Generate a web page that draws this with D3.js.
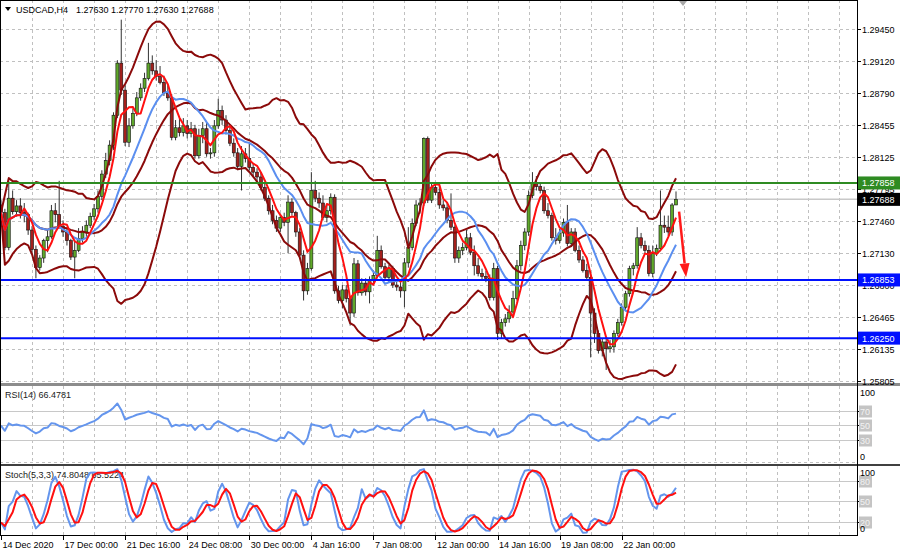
<!DOCTYPE html>
<html>
<head>
<meta charset="utf-8">
<title>USDCAD,H4</title>
<script src="https://cdn.jsdelivr.net/npm/d3@7"></script>
<style>
  body { margin: 0; background: #fff; }
  svg { display: block; font-family: "Liberation Sans", Arial, sans-serif; font-size: 9px; }
</style>
</head>
<body>
<svg id="chart" width="900" height="556"></svg>
<script>
// USDCAD H4 bars, 14 Dec 2020 08:00 .. 26 Jan 2021 08:00
const open = [
    1.2763,1.2755,1.2719,1.2770,1.2756,1.2762,1.2755,1.2753,1.2737,1.2717,
    1.2698,1.2708,1.2726,1.2730,1.2757,1.2753,1.2741,1.2735,1.2726,1.2709,
    1.2716,1.2728,1.2735,1.2742,1.2751,1.2759,1.2772,1.2795,1.2809,1.2825,
    1.2856,1.2910,1.2882,1.2828,1.2845,1.2858,1.2874,1.2884,1.2894,1.2910,
    1.2902,1.2896,1.2890,1.2879,1.2874,1.2833,1.2843,1.2838,1.2845,1.2837,
    1.2842,1.2814,1.2835,1.2842,1.2816,1.2817,1.2845,1.2861,1.2851,1.2840,
    1.2827,1.2817,1.2803,1.2816,1.2811,1.2802,1.2797,1.2792,1.2781,1.2770,
    1.2757,1.2747,1.2739,1.2750,1.2745,1.2766,1.2755,1.2735,1.2711,1.2674,
    1.2697,1.2778,1.2770,1.2765,1.2750,1.2757,1.2771,1.2674,1.2664,1.2675,
    1.2666,1.2651,1.2702,1.2672,1.2682,1.2673,1.2685,1.2690,1.2716,1.2699,
    1.2688,1.2697,1.2680,1.2678,1.2674,1.2703,1.2719,1.2744,1.2763,1.2765,
    1.2832,1.2768,1.2781,1.2776,1.2763,1.2760,1.2747,1.2740,1.2708,1.2716,
    1.2719,1.2729,1.2714,1.2700,1.2692,1.2689,1.2687,1.2667,1.2697,1.2630,
    1.2641,1.2645,1.2652,1.2666,1.2700,1.2721,1.2735,1.2773,1.2786,1.2782,
    1.2778,1.2757,1.2752,1.2729,1.2726,1.2734,1.2745,1.2723,1.2735,1.2716,
    1.2706,1.2695,1.2688,1.2651,1.2630,1.2612,1.2621,1.2614,1.2616,1.2630,
    1.2641,1.2657,1.2671,1.2697,1.2700,1.2729,1.2721,1.2716,1.2692,1.2713,
    1.2718,1.2742,1.2740,1.2735,1.2763
];
const high = [
    1.2768,1.2759,1.2788,1.2778,1.2768,1.2770,1.2765,1.2755,1.2741,1.2721,
    1.2711,1.2728,1.2737,1.2763,1.2765,1.2788,1.2747,1.2739,1.2728,1.2726,
    1.2739,1.2741,1.2747,1.2755,1.2764,1.2778,1.2799,1.2817,1.2830,1.2859,
    1.2913,1.2955,1.2887,1.2853,1.2863,1.2880,1.2889,1.2900,1.2931,1.2918,
    1.2913,1.2907,1.2897,1.2887,1.2878,1.2851,1.2853,1.2853,1.2851,1.2849,
    1.2846,1.2842,1.2849,1.2849,1.2822,1.2851,1.2873,1.2866,1.2856,1.2844,
    1.2832,1.2822,1.2824,1.2822,1.2828,1.2806,1.2801,1.2797,1.2785,1.2773,
    1.2763,1.2752,1.2754,1.2755,1.2773,1.2770,1.2757,1.2739,1.2716,1.2703,
    1.2797,1.2788,1.2776,1.2773,1.2763,1.2775,1.2774,1.2679,1.2680,1.2680,
    1.2669,1.2708,1.2706,1.2687,1.2687,1.2689,1.2695,1.2731,1.2721,1.2703,
    1.2701,1.2700,1.2685,1.2683,1.2708,1.2740,1.2749,1.2768,1.2770,1.2833,
    1.2834,1.2785,1.2785,1.2786,1.2768,1.2765,1.2775,1.2742,1.2720,1.2724,
    1.2737,1.2734,1.2721,1.2708,1.2697,1.2695,1.2691,1.2703,1.2700,1.2645,
    1.2650,1.2659,1.2674,1.2706,1.2726,1.2739,1.2778,1.2797,1.2793,1.2786,
    1.2782,1.2765,1.2755,1.2739,1.2738,1.2749,1.2763,1.2739,1.2739,1.2721,
    1.2710,1.2702,1.2692,1.2656,1.2633,1.2625,1.2625,1.2623,1.2633,1.2645,
    1.2661,1.2674,1.2700,1.2703,1.2740,1.2734,1.2726,1.2721,1.2721,1.2722,
    1.2778,1.2752,1.2752,1.2765,1.2777
];
const low = [
    1.2752,1.2716,1.2716,1.2753,1.2751,1.2749,1.2745,1.2732,1.2714,1.2687,
    1.2695,1.2703,1.2714,1.2728,1.2745,1.2739,1.2730,1.2721,1.2706,1.2687,
    1.2714,1.2724,1.2730,1.2739,1.2747,1.2755,1.2768,1.2791,1.2804,1.2820,
    1.2853,1.2877,1.2824,1.2823,1.2842,1.2855,1.2871,1.2880,1.2892,1.2898,
    1.2892,1.2888,1.2876,1.2871,1.2830,1.2830,1.2834,1.2834,1.2832,1.2833,
    1.2811,1.2811,1.2827,1.2813,1.2811,1.2813,1.2842,1.2846,1.2836,1.2824,
    1.2813,1.2799,1.2778,1.2807,1.2799,1.2793,1.2787,1.2778,1.2767,1.2753,
    1.2743,1.2735,1.2735,1.2741,1.2713,1.2752,1.2730,1.2708,1.2664,1.2670,
    1.2695,1.2766,1.2760,1.2747,1.2745,1.2753,1.2671,1.2661,1.2656,1.2662,
    1.2638,1.2647,1.2669,1.2669,1.2669,1.2661,1.2681,1.2687,1.2697,1.2685,
    1.2683,1.2677,1.2674,1.2667,1.2657,1.2698,1.2716,1.2741,1.2754,1.2762,
    1.2765,1.2765,1.2773,1.2759,1.2757,1.2744,1.2737,1.2703,1.2703,1.2711,
    1.2716,1.2711,1.2690,1.2689,1.2685,1.2683,1.2664,1.2664,1.2623,1.2625,
    1.2637,1.2641,1.2649,1.2664,1.2695,1.2716,1.2731,1.2770,1.2778,1.2775,
    1.2754,1.2749,1.2726,1.2722,1.2723,1.2730,1.2720,1.2720,1.2714,1.2703,
    1.2693,1.2685,1.2605,1.2620,1.2609,1.2606,1.2592,1.2610,1.2610,1.2627,
    1.2638,1.2654,1.2668,1.2690,1.2697,1.2718,1.2713,1.2689,1.2688,1.2710,
    1.2715,1.2734,1.2731,1.2731,1.2763
];
const close = [
    1.2755,1.2719,1.2770,1.2756,1.2762,1.2755,1.2753,1.2737,1.2717,1.2698,
    1.2708,1.2726,1.2730,1.2757,1.2753,1.2741,1.2735,1.2726,1.2709,1.2716,
    1.2728,1.2735,1.2742,1.2751,1.2759,1.2772,1.2795,1.2809,1.2825,1.2856,
    1.2910,1.2882,1.2828,1.2845,1.2858,1.2874,1.2884,1.2894,1.2910,1.2902,
    1.2896,1.2890,1.2879,1.2874,1.2833,1.2843,1.2838,1.2845,1.2837,1.2842,
    1.2814,1.2835,1.2842,1.2816,1.2817,1.2845,1.2861,1.2851,1.2840,1.2827,
    1.2817,1.2803,1.2816,1.2811,1.2802,1.2797,1.2792,1.2781,1.2770,1.2757,
    1.2747,1.2739,1.2750,1.2745,1.2766,1.2755,1.2735,1.2711,1.2674,1.2697,
    1.2778,1.2770,1.2765,1.2750,1.2757,1.2771,1.2674,1.2664,1.2675,1.2666,
    1.2651,1.2702,1.2672,1.2682,1.2673,1.2685,1.2690,1.2716,1.2699,1.2688,
    1.2697,1.2680,1.2678,1.2674,1.2703,1.2719,1.2744,1.2763,1.2765,1.2832,
    1.2768,1.2781,1.2776,1.2763,1.2760,1.2747,1.2740,1.2708,1.2716,1.2719,
    1.2729,1.2714,1.2700,1.2692,1.2689,1.2687,1.2667,1.2697,1.2630,1.2641,
    1.2645,1.2652,1.2666,1.2700,1.2721,1.2735,1.2773,1.2786,1.2782,1.2778,
    1.2757,1.2752,1.2729,1.2726,1.2734,1.2745,1.2723,1.2735,1.2716,1.2706,
    1.2695,1.2688,1.2651,1.2630,1.2612,1.2621,1.2614,1.2616,1.2630,1.2641,
    1.2657,1.2671,1.2697,1.2700,1.2729,1.2721,1.2716,1.2692,1.2713,1.2718,
    1.2742,1.2740,1.2735,1.2763,1.27688
];

// time axis (bar index -> label)
const timeLabelBars = [0, 16, 32, 48, 64, 80, 96, 112, 128, 144, 160];
const timeLabels = ['14 Dec 2020', '17 Dec 00:00', '21 Dec 16:00', '24 Dec 08:00', '30 Dec 00:00',
    '4 Jan 16:00', '7 Jan 08:00', '12 Jan 00:00', '14 Jan 16:00', '19 Jan 08:00', '22 Jan 00:00'];

const priceTicks = [1.29450, 1.29120, 1.28790, 1.28455, 1.28125, 1.27795,
    1.27460, 1.27130, 1.26800, 1.26465, 1.26135, 1.25805];

const resistanceLevels = [1.27858];
const supportLevels = [1.26853, 1.26250];
const bidPrice = 1.27688;

const headerSymbol = 'USDCAD,H4';
const headerPrices = '1.27630 1.27770 1.27630 1.27688';

const rsiLevels = [70, 50, 30];
const stochLevels = [80, 50, 20];
const rsiTitle = 'RSI(14) 66.4781';
const stochTitle = 'Stoch(5,3,3) 74.8048 65.5224';

// forecast arrow: [bar index, price]
const arrowFrom = [174.8, 1.2756];
const arrowTo = [176.6, 1.2688];

const svg = d3.select('#chart');
const axisX = 857;
const mainBottom = 383;
const rsiTop = 386, rsiBottom = 462;
const stTop = 466, stBottom = 535;

const x = d3.scaleLinear().domain([0, close.length - 1]).range([1, 676]);
const y = d3.scaleLinear().domain([1.25785, 1.29754]).range([mainBottom, 0]);
const yRsi = d3.scaleLinear().domain([0, 100]).range([461.75, 389]);
const ySt = d3.scaleLinear().domain([0, 100]).range([535.4, 467]);

// ---- indicators
function sma(src, n) {
    return src.map(function (d, i) {
        return d3.mean(src.slice(Math.max(0, i - n + 1), i + 1));
    });
}

function bollinger(src, n, k) {
    const mid = sma(src, n);
    const up = [], dn = [];
    src.forEach(function (d, i) {
        const w = src.slice(Math.max(0, i - n + 1), i + 1);
        const sd = Math.sqrt(d3.mean(w, function (v) { return (v - mid[i]) * (v - mid[i]); }));
        up.push(mid[i] + k * sd);
        dn.push(mid[i] - k * sd);
    });
    return { mid: mid, up: up, dn: dn };
}

// Wilder RSI, seeded with the average gain/loss of the first n changes
function rsi(src, n) {
    const ch = src.slice(1).map(function (c, i) { return c - src[i]; });
    let ag = d3.mean(ch.slice(0, n), function (d) { return Math.max(d, 0); });
    let al = d3.mean(ch.slice(0, n), function (d) { return Math.max(-d, 0); });
    const out = [100 - 100 / (1 + ag / al)];
    ch.forEach(function (d) {
        ag = (ag * (n - 1) + Math.max(d, 0)) / n;
        al = (al * (n - 1) + Math.max(-d, 0)) / n;
        out.push(al === 0 ? 100 : 100 - 100 / (1 + ag / al));
    });
    return out;
}

function stoch(kp, slow, dp) {
    const num = [], den = [];
    close.forEach(function (c, i) {
        const a = Math.max(0, i - kp + 1);
        const hh = d3.max(high.slice(a, i + 1));
        const ll = d3.min(low.slice(a, i + 1));
        num.push(c - ll);
        den.push(hh - ll);
    });
    const main = close.map(function (c, i) {
        const a = Math.max(0, i - slow + 1);
        const d = d3.sum(den.slice(a, i + 1));
        return d === 0 ? 50 : 100 * d3.sum(num.slice(a, i + 1)) / d;
    });
    return { main: main, signal: sma(main, dp) };
}

const bb = bollinger(close, 20, 2);
const maFast = sma(close, 5);
const maSlow = sma(close, 14);
const rsiVals = rsi(close, 14);
const st = stoch(5, 3, 3);

// ---- grid
const gridBars = d3.range(8, 224, 8);
[[0, mainBottom], [rsiTop, rsiBottom], [stTop, stBottom]].forEach(function (p) {
    svg.append('g').selectAll('line')
        .data(gridBars)
        .enter()
        .append('line')
        .attr('x1', function (d) { return Math.round(x(d)) + 0.5; })
        .attr('x2', function (d) { return Math.round(x(d)) + 0.5; })
        .attr('y1', p[0])
        .attr('y2', p[1])
        .attr('stroke', '#c0c0c0')
        .attr('stroke-dasharray', '3,3');
});

svg.append('g').selectAll('line')
    .data(priceTicks)
    .enter()
    .append('line')
    .attr('x1', 0)
    .attr('x2', axisX)
    .attr('y1', function (d) { return Math.round(y(d)) + 0.5; })
    .attr('y2', function (d) { return Math.round(y(d)) + 0.5; })
    .attr('stroke', '#c0c0c0')
    .attr('stroke-dasharray', '3,3');

svg.append('line')
    .attr('x1', 0).attr('x2', axisX)
    .attr('y1', rsiBottom + 0.5).attr('y2', rsiBottom + 0.5)
    .attr('stroke', '#c0c0c0').attr('stroke-dasharray', '3,3');

// ---- main panel
svg.append('clipPath').attr('id', 'mainClip')
    .append('rect').attr('x', 0).attr('y', 0).attr('width', axisX).attr('height', mainBottom);
const main = svg.append('g').attr('clip-path', 'url(#mainClip)');

main.append('line')
    .attr('x1', 0).attr('x2', axisX)
    .attr('y1', y(bidPrice)).attr('y2', y(bidPrice))
    .attr('stroke', '#c8c8c8').attr('stroke-width', 1.5);

const bars = d3.range(close.length);
const candles = main.append('g');
candles.selectAll('line')
    .data(bars)
    .enter()
    .append('line')
    .attr('x1', function (i) { return x(i); })
    .attr('x2', function (i) { return x(i); })
    .attr('y1', function (i) { return y(high[i]); })
    .attr('y2', function (i) { return y(low[i]); })
    .attr('stroke', '#333')
    .attr('stroke-width', 1);

candles.selectAll('rect')
    .data(bars)
    .enter()
    .append('rect')
    .attr('x', function (i) { return x(i) - 1.5; })
    .attr('width', 3)
    .attr('y', function (i) { return y(Math.max(open[i], close[i])); })
    .attr('height', function (i) { return Math.max(1, Math.abs(y(open[i]) - y(close[i]))); })
    .attr('fill', function (i) { return close[i] >= open[i] ? '#5fa82a' : '#a3201c'; })
    .attr('stroke', '#111')
    .attr('stroke-width', 0.6);

function drawLine(g, values, scale, color, width) {
    g.append('path')
        .datum(values)
        .attr('fill', 'none')
        .attr('stroke', color)
        .attr('stroke-width', width)
        .attr('stroke-linejoin', 'round')
        .attr('d', d3.line()
            .x(function (d, i) { return x(i); })
            .y(function (d) { return scale(d); }));
}

drawLine(main, bb.up, y, '#8b0a0a', 2);
drawLine(main, bb.mid, y, '#8b0a0a', 2);
drawLine(main, bb.dn, y, '#8b0a0a', 2);
drawLine(main, maSlow, y, '#5b8ff0', 2);
drawLine(main, maFast, y, '#ff1010', 2);

main.selectAll('.res')
    .data(resistanceLevels)
    .enter()
    .append('line')
    .attr('x1', 0).attr('x2', axisX)
    .attr('y1', function (d) { return y(d); })
    .attr('y2', function (d) { return y(d); })
    .attr('stroke', '#2e8b22').attr('stroke-width', 2);

main.selectAll('.sup')
    .data(supportLevels)
    .enter()
    .append('line')
    .attr('x1', 0).attr('x2', axisX)
    .attr('y1', function (d) { return y(d); })
    .attr('y2', function (d) { return y(d); })
    .attr('stroke', '#0010ff').attr('stroke-width', 2);

// forecast arrow
const ax0 = x(arrowFrom[0]), ay0 = y(arrowFrom[1]);
const ax1 = x(arrowTo[0]), ay1 = y(arrowTo[1]);
const ang = Math.atan2(ay1 - ay0, ax1 - ax0);
const headLen = 14, headW = 5;
const bx = ax1 - headLen * Math.cos(ang), by = ay1 - headLen * Math.sin(ang);
main.append('line')
    .attr('x1', ax0).attr('y1', ay0).attr('x2', bx).attr('y2', by)
    .attr('stroke', '#ff1a1a').attr('stroke-width', 2.5);
main.append('path')
    .attr('d', 'M' + ax1 + ',' + ay1 +
        'L' + (bx + headW * Math.sin(ang)) + ',' + (by - headW * Math.cos(ang)) +
        'L' + (bx - headW * Math.sin(ang)) + ',' + (by + headW * Math.cos(ang)) + 'Z')
    .attr('fill', '#ff1a1a');

// header
svg.append('path').attr('d', 'M5,7L11,7L8,11Z').attr('fill', '#000');
svg.append('text').attr('x', 16).attr('y', 13).text(headerSymbol);
svg.append('text').attr('x', 76).attr('y', 13).text(headerPrices);
svg.append('path').attr('d', 'M679,1L687,1L683,6Z').attr('fill', '#a8a8a8');

// ---- RSI panel
const rsiG = svg.append('g');
rsiG.selectAll('line')
    .data(rsiLevels)
    .enter()
    .append('line')
    .attr('x1', 0).attr('x2', axisX)
    .attr('y1', function (d) { return Math.round(yRsi(d)) + 0.5; })
    .attr('y2', function (d) { return Math.round(yRsi(d)) + 0.5; })
    .attr('stroke', '#c8c8c8');
rsiG.append('text').attr('x', 5).attr('y', 398).attr('fill', '#222').text(rsiTitle);
drawLine(rsiG, rsiVals, yRsi, '#6495ed', 2);

// ---- Stochastic panel
const stG = svg.append('g');
stG.selectAll('line')
    .data(stochLevels)
    .enter()
    .append('line')
    .attr('x1', 0).attr('x2', axisX)
    .attr('y1', function (d) { return Math.round(ySt(d)) + 0.5; })
    .attr('y2', function (d) { return Math.round(ySt(d)) + 0.5; })
    .attr('stroke', '#c8c8c8');
stG.append('text').attr('x', 5).attr('y', 478).attr('fill', '#222').text(stochTitle);
drawLine(stG, st.main, ySt, '#6495ed', 2);
drawLine(stG, st.signal, ySt, '#ff1010', 2);

// ---- frames and separators
svg.append('rect').attr('x', 0).attr('y', mainBottom).attr('width', 900).attr('height', 3).attr('fill', '#8c8c8c');
svg.append('line').attr('x1', 0).attr('x2', 900).attr('y1', 465).attr('y2', 465).attr('stroke', '#000').attr('stroke-width', 1.5);
svg.append('line').attr('x1', 0).attr('x2', axisX + 1).attr('y1', stBottom + 0.5).attr('y2', stBottom + 0.5).attr('stroke', '#000');
svg.append('line').attr('x1', 0).attr('x2', axisX + 1).attr('y1', 0.5).attr('y2', 0.5).attr('stroke', '#000');
svg.append('line').attr('x1', 0.5).attr('x2', 0.5).attr('y1', 0).attr('y2', stBottom).attr('stroke', '#000');
svg.append('line').attr('x1', axisX + 0.5).attr('x2', axisX + 0.5).attr('y1', 0).attr('y2', stBottom).attr('stroke', '#000');

// ---- price axis
const fmt = d3.format('.5f');
const pAxis = svg.append('g');
pAxis.selectAll('line')
    .data(priceTicks)
    .enter()
    .append('line')
    .attr('x1', axisX).attr('x2', axisX + 4)
    .attr('y1', function (d) { return Math.round(y(d)) + 0.5; })
    .attr('y2', function (d) { return Math.round(y(d)) + 0.5; })
    .attr('stroke', '#000');
pAxis.selectAll('text')
    .data(priceTicks)
    .enter()
    .append('text')
    .attr('x', axisX + 5)
    .attr('y', function (d) { return y(d) + 3.5; })
    .text(fmt);

function priceTag(p, fill) {
    svg.append('rect')
        .attr('x', axisX + 1).attr('y', y(p) - 6.5)
        .attr('width', 900 - axisX).attr('height', 13)
        .attr('fill', fill);
    svg.append('text')
        .attr('x', axisX + 5).attr('y', y(p) + 3.5)
        .attr('fill', '#fff')
        .text(fmt(p));
}
resistanceLevels.forEach(function (p) { priceTag(p, '#2e8b22'); });
supportLevels.forEach(function (p) { priceTag(p, '#0010ff'); });
priceTag(bidPrice, '#000');

// indicator scales on the right
function levelAxis(levels, scale, topY, bottomY) {
    const g = svg.append('g');
    levels.forEach(function (v) {
        const yy = Math.round(scale(v)) + 0.5;
        g.append('line').attr('x1', axisX).attr('x2', axisX + 4).attr('y1', yy).attr('y2', yy).attr('stroke', '#000');
        g.append('rect').attr('x', axisX + 2).attr('y', yy - 6).attr('width', 13).attr('height', 12).attr('fill', '#c4c4c4');
        g.append('text').attr('x', axisX + 3).attr('y', yy + 3.5).attr('fill', '#f2f2f2').text(v);
    });
    g.append('text').attr('x', axisX + 3).attr('y', topY).text('100');
    g.append('text').attr('x', axisX + 3).attr('y', bottomY).text('0');
}
levelAxis(rsiLevels, yRsi, 396, 460);
levelAxis(stochLevels, ySt, 475.5, 532);

// ---- time axis
const tAxis = svg.append('g');
tAxis.selectAll('line')
    .data(timeLabelBars)
    .enter()
    .append('line')
    .attr('x1', function (d) { return Math.round(x(d)) + 0.5; })
    .attr('x2', function (d) { return Math.round(x(d)) + 0.5; })
    .attr('y1', stBottom).attr('y2', stBottom + 5)
    .attr('stroke', '#000');
tAxis.selectAll('text')
    .data(timeLabelBars)
    .enter()
    .append('text')
    .attr('x', function (d) { return x(d) + 1.5; })
    .attr('y', 548)
    .text(function (d, i) { return timeLabels[i]; });
</script>
</body>
</html>
